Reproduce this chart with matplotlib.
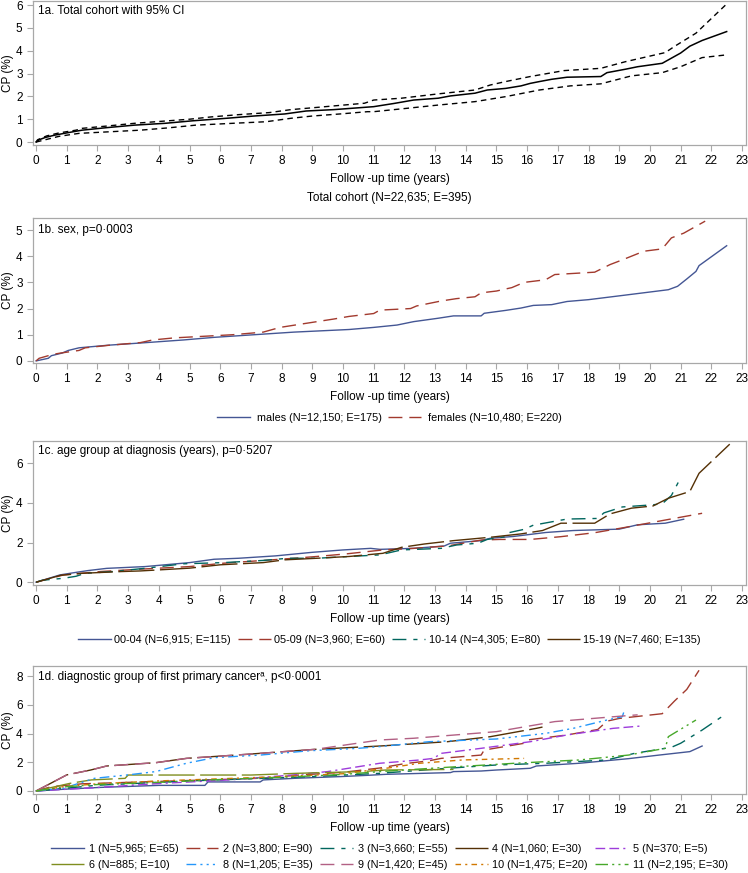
import matplotlib
matplotlib.use("Agg")
import matplotlib.pyplot as plt

plt.rcParams['font.family'] = ['Liberation Sans', 'DejaVu Sans']
plt.rcParams['font.size'] = 8.5

# ---- 1a. total cohort with 95% CI ----
t_tot = [0.0, 0.1, 0.3, 0.6, 1.0, 1.5, 2.3, 3.2, 4.2, 5.1, 6.2, 7.1, 8.1, 8.8, 9.7, 10.6,
         11.0, 11.66, 12.3, 13.1, 13.5, 14.3, 14.7, 15.3, 15.8, 16.1, 16.4, 16.8, 17.3,
         18.4, 18.6, 19.2, 19.6, 20.4, 20.6, 21.0, 21.3, 21.7, 22.5]
cp_tot = [0.0, 0.1, 0.2, 0.3, 0.4, 0.52, 0.63, 0.74, 0.82, 0.93, 1.04, 1.14, 1.23, 1.36, 1.42, 1.51,
          1.55, 1.69, 1.84, 1.92, 2.02, 2.14, 2.28, 2.35, 2.46, 2.57, 2.65, 2.75, 2.84,
          2.87, 3.04, 3.19, 3.3, 3.45, 3.6, 3.9, 4.2, 4.45, 4.84]
t_up = [0.0, 0.05, 0.35, 0.75, 1.3, 1.5, 2.3, 3.2, 4.0, 5.0, 5.7, 6.6, 7.6, 8.3, 9.0, 10.7,
        11.0, 11.9, 13.1, 14.3, 14.8, 15.3, 16.1, 17.2, 18.4, 19.2, 20.5, 20.8, 21.5, 22.5]
cp_up = [0.0, 0.1, 0.27, 0.4, 0.52, 0.6, 0.7, 0.82, 0.9, 1.0, 1.1, 1.2, 1.29, 1.42, 1.5, 1.7,
         1.84, 1.92, 2.11, 2.28, 2.5, 2.65, 2.87, 3.13, 3.23, 3.52, 3.92, 4.19, 4.77, 6.05]
t_lo = [0.0, 0.75, 1.4, 2.4, 3.4, 4.3, 5.2, 6.4, 7.5, 8.3, 9.0, 9.9, 10.8,
        11.0, 12.1, 13.1, 14.3, 15.3, 16.4, 17.4, 18.4, 19.4, 20.4, 21.0, 21.7, 22.5]
cp_lo = [0.0, 0.25, 0.38, 0.45, 0.52, 0.62, 0.74, 0.82, 0.89, 1.04, 1.14, 1.23, 1.33,
         1.33, 1.48, 1.62, 1.77, 1.99, 2.28, 2.46, 2.55, 2.9, 3.04, 3.3, 3.7, 3.82]

# ---- 1b. sex ----
t_male = [0.0, 0.4, 0.5, 0.85, 1.05, 1.4, 2.35, 3.6, 4.8, 5.8, 7.1, 8.4, 10.2, 11.0, 11.76,
          12.3, 13.1, 13.6, 14.5, 14.6, 15.3, 15.8, 16.2, 16.8, 17.3, 18.0, 19.1, 20.6,
          20.9, 21.2, 21.5, 21.6, 22.5]
cp_male = [0.0, 0.1, 0.2, 0.3, 0.4, 0.5, 0.6, 0.7, 0.8, 0.9, 1.0, 1.1, 1.2, 1.28, 1.37,
           1.5, 1.63, 1.72, 1.72, 1.82, 1.93, 2.02, 2.12, 2.15, 2.27, 2.34, 2.5, 2.72,
           2.85, 3.13, 3.42, 3.64, 4.4]
t_fem = [0.0, 0.1, 0.55, 0.8, 1.4, 1.6, 2.4, 3.4, 3.8, 4.5, 6.4, 7.4, 7.95, 8.6, 9.7, 10.2,
         11.0, 11.2, 12.2, 12.4, 13.2, 13.7, 14.3, 14.5, 15.0, 15.5, 15.9, 16.6, 16.9,
         18.2, 18.7, 19.1, 19.8, 20.4, 20.7, 21.1, 21.8]
cp_fem = [0.0, 0.1, 0.25, 0.3, 0.4, 0.5, 0.6, 0.7, 0.8, 0.88, 1.0, 1.1, 1.28, 1.4, 1.6, 1.7,
          1.81, 1.94, 2.0, 2.1, 2.29, 2.38, 2.45, 2.6, 2.67, 2.8, 3.0, 3.1, 3.3,
          3.39, 3.68, 3.86, 4.19, 4.28, 4.7, 4.88, 5.34]
sex_labels = ['males (N=12,150; E=175)', 'females (N=10,480; E=220)']

# ---- 1c. age group ----
t_a1 = [0.0, 0.78, 1.27, 1.7, 2.3, 3.55, 5.0, 5.8, 6.6, 7.8, 9.0, 10.0, 10.9, 11.2, 12.3,
        13.3, 13.5, 14.5, 14.8, 15.55, 16.6, 17.5, 19.0, 19.6, 20.5, 21.1]
cp_a1 = [0.0, 0.37, 0.49, 0.59, 0.7, 0.79, 0.99, 1.16, 1.21, 1.33, 1.51, 1.63, 1.71, 1.66, 1.71,
         1.83, 1.97, 2.1, 2.22, 2.31, 2.51, 2.61, 2.68, 2.9, 2.98, 3.18]
t_a2 = [0.0, 0.9, 2.1, 3.4, 5.0, 6.1, 7.4, 8.4, 9.15, 10.1, 11.3, 12.3, 13.4, 14.5, 15.1,
        16.1, 17.1, 18.2, 19.2, 20.5, 21.7]
cp_a2 = [0.0, 0.37, 0.54, 0.66, 0.79, 0.96, 1.1, 1.21, 1.3, 1.43, 1.63, 1.71, 1.83, 2.13, 2.16,
         2.16, 2.3, 2.5, 2.77, 3.14, 3.48]
t_a3 = [0.0, 0.2, 0.9, 1.3, 1.6, 2.5, 3.6, 4.8, 6.1, 7.4, 8.2, 9.15, 10.2, 11.2, 11.9, 13.2,
        13.7, 14.4, 14.7, 15.3, 15.4, 15.9, 16.2, 17.3, 18.3, 18.5, 19.1, 20.1, 20.4, 20.7, 21.0]
cp_a3 = [0.0, 0.1, 0.2, 0.3, 0.45, 0.54, 0.71, 0.93, 0.99, 1.1, 1.21, 1.21, 1.3, 1.38, 1.63, 1.71,
         1.88, 1.97, 2.16, 2.3, 2.5, 2.67, 2.88, 3.19, 3.22, 3.5, 3.8, 3.91, 3.96, 4.38, 5.27]
t_a4 = [0.0, 0.8, 1.5, 2.8, 3.4, 5.0, 6.0, 7.4, 8.1, 9.15, 10.2, 11.3, 11.9, 12.65, 13.6,
        14.8, 15.8, 16.5, 17.1, 18.2, 18.7, 19.4, 20.1, 20.6, 21.3, 21.6, 22.6]
cp_a4 = [0.0, 0.35, 0.45, 0.54, 0.57, 0.71, 0.88, 0.99, 1.13, 1.21, 1.3, 1.46, 1.76, 1.93, 2.1,
         2.27, 2.44, 2.61, 2.98, 2.98, 3.45, 3.74, 3.85, 4.24, 4.58, 5.5, 6.97]
age_labels = ['00-04 (N=6,915; E=115)', '05-09 (N=3,960; E=60)',
              '10-14 (N=4,305; E=80)', '15-19 (N=7,460; E=135)']

# ---- 1d. diagnostic group ----
t_g1 = [0.0, 0.9, 2.1, 4.0, 5.5, 5.6, 7.3, 7.4, 8.4, 9.9, 10.8, 11.4, 13.5, 13.6, 14.5, 15.0,
        16.1, 16.3, 17.7, 19.3, 20.3, 21.3, 21.7]
cp_g1 = [0.0, 0.12, 0.25, 0.39, 0.39, 0.63, 0.63, 0.77, 0.88, 1.0, 1.09, 1.16, 1.28, 1.35, 1.39, 1.46,
         1.58, 1.74, 1.93, 2.25, 2.5, 2.74, 3.13]
t_g2 = [0.0, 0.5, 1.5, 3.0, 4.5, 6.0, 7.5, 8.5, 10.0, 11.2, 12.0, 12.8, 13.2, 14.5, 14.6, 15.9,
        16.0, 17.3, 18.3, 18.6, 19.0, 20.4, 20.8, 21.2, 21.6]
cp_g2 = [0.0, 0.3, 0.5, 0.6, 0.7, 0.8, 0.9, 1.1, 1.3, 1.6, 1.9, 2.1, 2.27, 2.5, 2.85, 3.32,
         3.55, 3.9, 4.28, 4.86, 5.05, 5.38, 6.26, 7.07, 8.4]
t_g3 = [0.0, 1.0, 2.0, 3.0, 5.0, 7.0, 9.0, 11.2, 13.4, 15.0, 16.6, 18.6, 19.5, 20.7, 21.0,
        21.7, 22.5]
cp_g3 = [0.0, 0.2, 0.4, 0.5, 0.7, 0.85, 1.0, 1.23, 1.58, 1.81, 1.93, 2.16, 2.62, 3.04, 3.32,
         4.24, 5.4]
t_g4 = [0.0, 1.0, 1.78, 2.3, 3.9, 4.9, 6.85, 9.1, 11.2, 13.4, 14.8, 16.3, 16.5]
cp_g4 = [0.0, 1.12, 1.46, 1.74, 1.97, 2.27, 2.55, 2.9, 3.13, 3.43, 3.78, 4.36, 4.45]
t_g5 = [0.0, 1.9, 4.1, 6.3, 8.4, 9.5, 11.2, 12.5, 12.95, 13.2, 14.5, 16.1, 17.3, 18.8, 19.7]
cp_g5 = [0.0, 0.23, 0.53, 0.77, 1.12, 1.35, 1.93, 2.16, 2.27, 2.62, 2.97, 3.43, 3.9, 4.36, 4.52]
t_g6 = [0.0, 1.1, 1.8, 2.9, 3.0, 5.8, 7.0, 8.5, 10.6, 11.4, 13.6]
cp_g6 = [0.0, 0.53, 0.77, 0.88, 1.11, 1.11, 1.11, 1.23, 1.35, 1.46, 1.5]
t_g8 = [0.0, 0.9, 1.2, 1.9, 3.0, 3.9, 4.9, 5.8, 7.3, 8.9, 10.5, 11.2, 12.8, 15.0, 16.6, 17.5,
        18.6, 19.1, 19.15]
cp_g8 = [0.0, 0.2, 0.4, 0.88, 1.12, 1.35, 1.93, 2.32, 2.5, 2.8, 2.97, 3.09, 3.43, 3.62, 4.01, 4.36,
         4.94, 5.17, 5.5]
t_g9 = [0.0, 1.0, 1.78, 2.3, 3.9, 4.9, 6.85, 9.1, 11.2, 12.3, 15.0, 16.9, 19.0, 19.6]
cp_g9 = [0.0, 1.12, 1.46, 1.74, 1.97, 2.27, 2.55, 2.9, 3.55, 3.67, 4.13, 4.83, 5.2, 5.3]
t_g10 = [0.0, 0.9, 2.0, 4.0, 6.0, 8.0, 10.0, 11.4, 12.5, 13.9, 15.9]
cp_g10 = [0.0, 0.3, 0.5, 0.7, 0.85, 1.0, 1.2, 1.58, 1.93, 2.16, 2.27]
t_g11 = [0.0, 1.0, 2.0, 4.0, 6.0, 8.0, 10.0, 11.2, 13.4, 15.6, 17.7, 19.3, 20.5, 20.6, 21.5]
cp_g11 = [0.0, 0.3, 0.45, 0.6, 0.8, 0.95, 1.15, 1.35, 1.65, 1.93, 2.16, 2.5, 2.97, 3.78, 4.94]
grp_labels = ['1 (N=5,965; E=65)', '2 (N=3,800; E=90)', '3 (N=3,660; E=55)',
              '4 (N=1,060; E=30)', '5 (N=370; E=5)', '6 (N=885; E=10)',
              '8 (N=1,205; E=35)', '9 (N=1,420; E=45)', '10 (N=1,475; E=20)',
              '11 (N=2,195; E=30)']

# SAS-like colours / patterns
blue, red, teal, brown = '#445694', '#A23A2E', '#01665E', '#543005'
purple, olive, lblue, pink, orange, green = '#9D3CDB', '#7F8E1F', '#2597FA', '#B26084', '#D17800', '#47A82A'
ls_long = (0, (10, 5))
ls_longshort = (0, (10, 5, 3, 5))
ls_vlong = (0, (26, 4))
LEG_FS = 7.8

fig = plt.figure(figsize=(7.48, 8.73), dpi=100)
W, H = 748, 873


def make_ax(top, bottom, ylim, yticks, title, ttop):
    ax = fig.add_axes([33 / W, 1 - bottom / H, 713 / W, (bottom - top) / H])
    ax.set_xlim(-0.1, 23.13)
    ax.set_ylim(*ylim)
    ax.set_xticks(range(24))
    ax.set_yticks(yticks)
    for s in ax.spines.values():
        s.set_color('#a8a8a8')
        s.set_linewidth(0.9)
    ax.tick_params(colors='#a8a8a8', labelcolor='black', length=4, width=0.8, pad=3.5)
    ax.set_ylabel('CP (%)')
    ax.yaxis.set_label_coords(-19 / 713, 0.5)
    h = bottom - top
    ax.text(0.5, -34 / h, 'Follow -up time (years)', transform=ax.transAxes,
            ha='center', va='center')
    ax.text(0.007, 1 - ttop / h, title, transform=ax.transAxes, ha='left', va='top')
    return ax


# 1a
ax = make_ax(1, 145, (-0.13, 6.18), range(7), '1a. Total cohort with 95% CI', 4)
ax.plot(t_tot, cp_tot, color='black', lw=1.1)
ax.plot(t_up, cp_up, color='black', lw=1.0, ls=(0, (4, 3)))
ax.plot(t_lo, cp_lo, color='black', lw=1.0, ls=(0, (4, 3)))
ax.text(0.5, -53 / 144, 'Total cohort (N=22,635; E=395)', transform=ax.transAxes,
        ha='center', va='center')

# 1b
ax = make_ax(218, 363, (-0.08, 5.46), range(6), '1b. sex, p=0\u00b70003', 6)
ax.plot(t_male, cp_male, color=blue, lw=1.0, label=sex_labels[0])
ax.plot(t_fem, cp_fem, color=red, lw=1.0, ls=ls_long, label=sex_labels[1])
ax.legend(loc='center', bbox_to_anchor=(0.5, -55 / 145), ncol=2, frameon=False,
          fontsize=LEG_FS, handlelength=3.0, handletextpad=0.7, columnspacing=0.55)

# 1c
ax = make_ax(441, 585, (-0.14, 7.13), [0, 2, 4, 6],
             '1c. age group at diagnosis (years), p=0\u00b75207', 4)
ax.plot(t_a1, cp_a1, color=blue, lw=1.0, label=age_labels[0])
ax.plot(t_a2, cp_a2, color=red, lw=1.0, ls=ls_long, label=age_labels[1])
ax.plot(t_a3, cp_a3, color=teal, lw=1.0, ls=ls_longshort, label=age_labels[2])
ax.plot(t_a4, cp_a4, color=brown, lw=1.0, ls=ls_vlong, label=age_labels[3])
ax.legend(loc='center', bbox_to_anchor=(0.5, -55 / 144), ncol=4, frameon=False,
          fontsize=LEG_FS, handlelength=3.0, handletextpad=0.35, columnspacing=0.65)

# 1d
ax = make_ax(666, 794, (-0.21, 8.7), [0, 2, 4, 6, 8],
             '1d. diagnostic group of first primary cancer\u1d43, p<0\u00b70001', 5)
series = [
    (t_g1, cp_g1, blue, '-'),
    (t_g2, cp_g2, red, ls_long),
    (t_g3, cp_g3, teal, ls_longshort),
    (t_g4, cp_g4, brown, ls_vlong),
    (t_g5, cp_g5, purple, (0, (7, 3, 7, 3, 1.5, 3))),
    (t_g6, cp_g6, olive, ls_vlong),
    (t_g8, cp_g8, lblue, (0, (7, 3, 1.5, 3, 1.5, 3, 1.5, 3))),
    (t_g9, cp_g9, pink, ls_long),
    (t_g10, cp_g10, orange, (0, (4, 3, 1.5, 3))),
    (t_g11, cp_g11, green, (0, (9, 3, 1.5, 3, 1.5, 3))),
]
lines = []
for (t, cp, c, ls), lab in zip(series, grp_labels):
    ln, = ax.plot(t, cp, color=c, lw=1.0, ls=ls, label=lab)
    lines.append(ln)
order = [0, 5, 1, 6, 2, 7, 3, 8, 4, 9]
ax.legend([lines[i] for i in order], [grp_labels[i] for i in order],
          loc='center', bbox_to_anchor=(0.5, -63 / 128), ncol=5, frameon=False,
          fontsize=LEG_FS, handlelength=3.0, handletextpad=0.45, columnspacing=0.7,
          labelspacing=0.55)

fig.savefig('out.png', dpi=100)
